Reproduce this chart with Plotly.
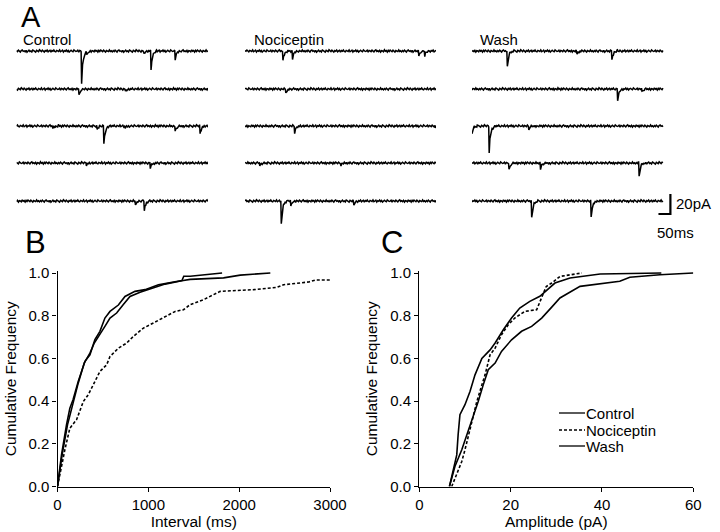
import numpy as np
import plotly.graph_objects as go

# ---------------- data ----------------
# Panel A: spontaneous events per sweep, (time in ms, amplitude in pA)
TRACE_MS = 800
CONTROL_EVENTS = [
    [(270, 32), (291, 4), (530, 3), (560, 20), (661, 8)],
    [(259, 6), (453, 3)],
    [(150, 2), (335, 4), (363, 18), (452, 2), (661, 6), (765, 8)],
    [(290, 2), (557, 5)],
    [(495, 4), (532, 10)],
]
NOCICEPTIN_EVENTS = [
    [(157, 10), (197, 8), (726, 6), (751, 5)],
    [(169, 4)],
    [(206, 7), (796, 3)],
    [(60, 2), (400, 2)],
    [(150, 23), (190, 6), (454, 4)],
]
WASH_EVENTS = [
    [(146, 16), (438, 3), (584, 9)],
    [(608, 12), (710, 3)],
    [(-3, 8), (70, 26), (236, 3)],
    [(153, 7), (285, 6), (698, 13)],
    [(248, 17), (497, 17)],
]
# baseline noise samples (pA), read as the approximate trace jitter
NOISE = [0.4, -0.6, 0.9, -0.2, -1.0, 0.5, 1.1, -0.3, 0.2, -0.8, 0.7, -1.2, 0.3, 0.9, -0.5, 0.0,
         -0.9, 1.0, 0.4, -0.4, -1.1, 0.6, 0.2, -0.7, 1.2, -0.1, -0.6, 0.8, 0.3, -1.0, 0.5, -0.3,
         0.9, -0.8, 0.1, 0.7, -1.2, 0.4, -0.2, 1.0, -0.5, -0.9, 0.6, 0.2, -0.4, 1.1, -0.7, 0.0,
         0.8, -1.1, 0.3, -0.3, 0.9, -0.6, 0.5, -1.0, 0.2, 0.7, -0.2, -0.8, 1.0, 0.4, -0.5, -0.1,
         0.8, -1.2, 0.6, 0.1, -0.7, 0.9, -0.3, -0.9, 0.5, 1.1, -0.4, 0.2, -0.6, 0.7, -1.0, 0.3,
         0.0, -0.8, 1.2, -0.2, 0.4, -1.1, 0.6, -0.5, 0.9, 0.1, -0.7, 0.8, -0.3, -1.0, 0.5, 0.3,
         -0.6, 1.0, -0.4, 0.2, -0.9]
SCALE_MS = 50
SCALE_PA = 20

# Panel B: cumulative interval distributions
B_CONTROL_X = [0, 44, 99, 136, 171, 228, 302, 357, 412, 467, 522, 578, 670, 743, 853, 964,
               1111, 1332, 1370, 1390, 1460, 1812]
B_CONTROL_Y = [0, .148, .289, .367, .406, .492, .586, .617, .688, .727, .789, .820, .850, .890,
               .914, .922, .945, .961, .965, .985, .985, 1.0]
B_NOCI_X = [0, 37, 81, 136, 210, 284, 339, 412, 467, 541, 578, 670, 762, 835, 946, 1056, 1184,
            1295, 1387, 1460, 1607, 1791, 2159, 2417, 2490, 2766, 2840, 3000]
B_NOCI_Y = [0, .086, .172, .273, .313, .398, .43, .492, .539, .57, .609, .648, .672, .703, .742,
            .766, .797, .82, .828, .852, .875, .914, .922, .933, .945, .958, .967, .967]
B_WASH_X = [0, 51, 110, 147, 228, 294, 357, 405, 467, 522, 578, 651, 725, 798, 909, 1037, 1184,
            1368, 1460, 1828, 2012, 2343]
B_WASH_Y = [0, .148, .289, .35, .484, .578, .625, .672, .711, .75, .789, .8125, .852, .89, .91,
            .927, .948, .964, .970, .977, .99, 1.0]

# Panel C: cumulative amplitude distributions
C_CONTROL_X = [6.6, 7.5, 8.2, 8.5, 8.9, 10.0, 11.1, 12.2, 12.8, 13.7, 15.5, 16.6, 18.4, 20.2,
               22.0, 24.2, 26.4, 28.6, 29.7, 33.0, 39.6, 53.0]
C_CONTROL_Y = [0, .086, .148, .242, .336, .383, .445, .523, .555, .60, .64, .672, .734, .789,
               .836, .867, .891, .93, .953, .977, .995, 1.0]
C_NOCI_X = [7.1, 8.2, 9.3, 10.0, 11.1, 11.8, 12.6, 13.7, 14.4, 15.5, 16.6, 18.0, 19.5, 20.9,
            23.1, 25.7, 26.4, 27.1, 27.8, 29.0, 30.8, 35.6]
C_NOCI_Y = [0, .055, .117, .172, .273, .336, .398, .476, .523, .617, .648, .711, .758, .789,
            .82, .828, .867, .898, .937, .953, .984, 1.0]
C_WASH_X = [6.6, 7.8, 9.3, 10.7, 11.8, 12.9, 14.0, 15.1, 16.6, 18.0, 20.2, 22.4, 24.6, 26.8,
            29.0, 30.8, 35.2, 43.9, 46.1, 52.7, 60]
C_WASH_Y = [0, .094, .172, .258, .32, .398, .476, .547, .578, .633, .687, .727, .75, .789, .84,
            .883, .9375, .961, .98, .992, 1.0]

SERIES_NAMES = ["Control", "Nociceptin", "Wash"]
B_TICKS = [0, 1000, 2000, 3000]
C_TICKS = [0, 20, 40, 60]
Y_TICKS = [0, 0.2, 0.4, 0.6, 0.8, 1.0]
Y_TICK_TEXT = ["0.0", "0.2", "0.4", "0.6", "0.8", "1.0"]

# ---------------- layout constants ----------------
W, H = 720, 532
FONT = "Liberation Sans, Arial, Helvetica, sans-serif"
ROW_BASE = [0, -38, -75, -112, -150]        # vertical offset of each sweep (pA units)
SAMPLE_MS = 4
EVENT_SHAPE_T = [0, 2, 5, 12, 25]             # event waveform (ms after onset)
EVENT_SHAPE_Y = [0, -1, -0.5, -0.15, 0]       # relative amplitude
SCALEBAR_X_END = 831
SCALEBAR_Y = -163


def px(x):
    return x / W


def py(y):
    return 1 - y / H


def sweep(events, offset):
    t = np.arange(0, TRACE_MS + 1, SAMPLE_MS, dtype=float)
    extra = [e[0] + k for e in events for k in EVENT_SHAPE_T]
    extra = [v for v in extra if 0 <= v <= TRACE_MS]
    tt = np.unique(np.concatenate([t, np.array(extra, dtype=float)]))
    y = np.array([NOISE[(int(round(v / SAMPLE_MS)) + offset) % len(NOISE)] for v in tt])
    for t0, a in events:
        y = y + a * np.interp(tt - t0, EVENT_SHAPE_T, EVENT_SHAPE_Y, left=0, right=0)
    return tt, y


fig = go.Figure()
line_k = dict(color="black", width=1.5)

for ci, (events, xa) in enumerate([(CONTROL_EVENTS, "x3"), (NOCICEPTIN_EVENTS, "x4"),
                                   (WASH_EVENTS, "x5")]):
    for ri, ev in enumerate(events):
        tt, yy = sweep(ev, offset=ci * 37 + ri * 19)
        fig.add_trace(go.Scatter(x=tt, y=yy + ROW_BASE[ri], mode="lines", line=line_k,
                                 xaxis=xa, yaxis="y3", showlegend=False, hoverinfo="skip"))

# scale bar
fig.add_trace(go.Scatter(x=[SCALEBAR_X_END - SCALE_MS, SCALEBAR_X_END, SCALEBAR_X_END],
                         y=[SCALEBAR_Y, SCALEBAR_Y, SCALEBAR_Y + SCALE_PA], mode="lines",
                         line=dict(color="black", width=2.2), xaxis="x5", yaxis="y3",
                         showlegend=False, hoverinfo="skip"))

solid = dict(color="black", width=1.6)
dashed = dict(color="black", width=1.6, dash="3px,2px")
styles = [solid, dashed, solid]

for name, xs, ys, st in zip(SERIES_NAMES, [B_CONTROL_X, B_NOCI_X, B_WASH_X],
                            [B_CONTROL_Y, B_NOCI_Y, B_WASH_Y], styles):
    fig.add_trace(go.Scatter(x=xs, y=ys, mode="lines", line=st, name=name,
                             xaxis="x", yaxis="y", showlegend=False))
for name, xs, ys, st in zip(SERIES_NAMES, [C_CONTROL_X, C_NOCI_X, C_WASH_X],
                            [C_CONTROL_Y, C_NOCI_Y, C_WASH_Y], styles):
    fig.add_trace(go.Scatter(x=xs, y=ys, mode="lines", line=st, name=name,
                             xaxis="x2", yaxis="y2", showlegend=False))

ax_common = dict(showline=True, linecolor="black", linewidth=1.3, ticks="outside",
                 ticklen=4, tickwidth=1.3, tickcolor="black", showgrid=False, zeroline=False,
                 automargin=False,
                 tickfont=dict(family=FONT, size=15, color="black"),
                 title_font=dict(family=FONT, size=15.5, color="black"))
y_top_pad = 2 / 213.5
yax = dict(ax_common, range=[0, 1 + y_top_pad], tickvals=Y_TICKS, ticktext=Y_TICK_TEXT,
           domain=[py(486.5), py(271)], title=dict(text="Cumulative Frequency", standoff=8))

fig.update_layout(
    width=W, height=H, margin=dict(l=0, r=0, t=0, b=0, pad=0, autoexpand=False),
    paper_bgcolor="white", plot_bgcolor="white", showlegend=False,
    font=dict(family=FONT, color="black"),
    xaxis=dict(ax_common, domain=[px(57.5), px(330)], range=[0, 3000], tickvals=B_TICKS,
               ticktext=[str(v) for v in B_TICKS], anchor="y",
               title=dict(text="Interval (ms)", standoff=0)),
    yaxis=dict(yax, anchor="x"),
    xaxis2=dict(ax_common, domain=[px(419.3), px(693.3)], range=[0, 60], tickvals=C_TICKS,
                ticktext=[str(v) for v in C_TICKS], anchor="y2",
                title=dict(text="Amplitude (pA)", standoff=0)),
    yaxis2=dict(yax, anchor="x2"),
    xaxis3=dict(domain=[px(16.5), px(208)], range=[0, TRACE_MS], visible=False, anchor="y3"),
    xaxis4=dict(domain=[px(245), px(436)], range=[0, TRACE_MS], visible=False, anchor="y3"),
    xaxis5=dict(domain=[px(472), px(700)], range=[0, TRACE_MS * 228 / 191], visible=False,
                anchor="y3"),
    yaxis3=dict(domain=[py(230), py(30)], range=[-179, 21], visible=False, anchor="x3"),
)

ann = []
shapes = []


def label(text, x, y, size, xanchor="left"):
    ann.append(dict(text=text, x=px(x), y=py(y), xref="paper", yref="paper",
                    xanchor=xanchor, yanchor="middle", showarrow=False,
                    font=dict(family=FONT, size=size, color="black")))


label("A", 19, 17, 29)
label("B", 23, 242, 31)
label("C", 379, 242, 31)
label("Control", 21, 39.5, 15)
label("Nociceptin", 252, 39.5, 15)
label("Wash", 478, 39.5, 15)
label("20pA", 674, 204, 15)
label("50ms", 675, 232, 15, xanchor="center")

# legend for panels B and C (key drawn beside panel C's curves)
LEG_Y = [413, 430, 446]
for name, st, ly in zip(SERIES_NAMES, styles, LEG_Y):
    shapes.append(dict(type="line", xref="paper", yref="paper", x0=px(559), x1=px(585),
                       y0=py(ly), y1=py(ly),
                       line=dict(color="black", width=1.3, dash=st.get("dash", "solid"))))
    label(name, 584, ly, 15)

fig.update_layout(annotations=ann, shapes=shapes)

# the page body gets no default margin so the 720x532 figure fills the window exactly
fig.write_html("out.html", config={"displayModeBar": False},
               post_script="document.body.style.margin='0px';")
